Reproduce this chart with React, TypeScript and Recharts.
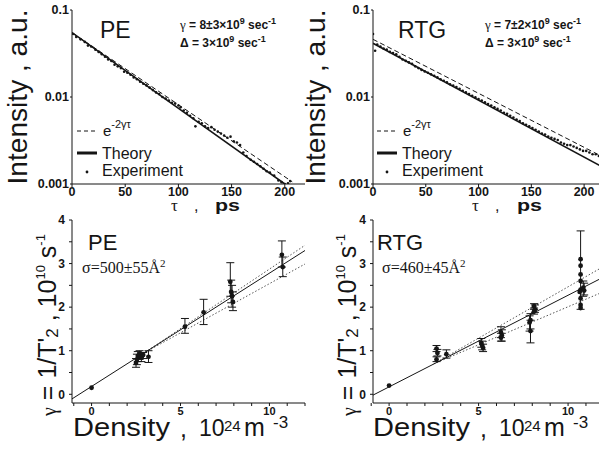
import React from 'react';
import { ComposedChart, XAxis, YAxis, Line, Scatter, ErrorBar, Customized } from 'recharts';

const INK = '#151515';
const SANS = '"Liberation Sans", Arial, Helvetica, sans-serif';
const SERIF = '"Liberation Serif", "Times New Roman", serif';

// ---------- Intensity decay: tau (ps) vs intensity (a.u.) ----------
const tauTicks = [0, 50, 100, 150, 200];
const intensityTicks = [0.001, 0.01, 0.1];

const peExperiment = [
  [1, 0.053], [4, 0.049], [8, 0.046], [12, 0.043], [15, 0.039], [18, 0.038], [22, 0.035],
  [25, 0.033], [28, 0.031], [31, 0.029], [34, 0.027], [37, 0.026], [40, 0.0235], [43, 0.0225],
  [46, 0.0215], [49, 0.0195], [52, 0.019], [55, 0.018], [58, 0.0168], [61, 0.016], [64, 0.015],
  [67, 0.0142], [70, 0.0136], [73, 0.0128], [76, 0.012], [79, 0.0113], [82, 0.0108], [85, 0.01],
  [88, 0.0096], [91, 0.0091], [94, 0.0086], [97, 0.0084], [100, 0.008], [102, 0.0076],
  [105, 0.007], [108, 0.0066], [111, 0.0061], [114, 0.0057], [116, 0.0046], [119, 0.0052],
  [122, 0.005], [125, 0.0046], [128, 0.0044], [131, 0.0045], [134, 0.0042], [137, 0.004],
  [140, 0.0038], [143, 0.0036], [146, 0.0034], [149, 0.0035], [152, 0.0031], [155, 0.003],
  [158, 0.0028], [161, 0.0023], [164, 0.0021], [168, 0.0019], [171, 0.0018], [174, 0.0017],
  [177, 0.0016], [180, 0.0015], [183, 0.0014], [186, 0.00135], [190, 0.00125], [194, 0.0011],
  [197, 0.00105], [200, 0.001], [203, 0.00102], [205, 0.00108],
];
const peTheory = [[0, 0.055], [200, 0.001]];
const peSingleExp = [[0, 0.055], [207, 0.00106]];

const rtgExperiment = [
  [0, 0.053], [2, 0.034], [4, 0.04], [7, 0.038], [10, 0.036], [13, 0.035], [16, 0.033],
  [19, 0.032], [22, 0.031], [25, 0.029], [28, 0.027], [31, 0.026], [34, 0.025], [37, 0.024],
  [40, 0.0225], [43, 0.0215], [46, 0.0205], [49, 0.0197], [52, 0.019], [55, 0.0182],
  [58, 0.0175], [61, 0.0168], [64, 0.016], [67, 0.0154], [70, 0.0148], [73, 0.014],
  [76, 0.0135], [79, 0.013], [82, 0.0124], [85, 0.0118], [88, 0.0113], [91, 0.0108],
  [94, 0.0103], [97, 0.0099], [100, 0.0095], [103, 0.0091], [106, 0.0087], [109, 0.0083],
  [112, 0.008], [115, 0.0076], [118, 0.0073], [121, 0.007], [124, 0.0066], [127, 0.0064],
  [130, 0.0061], [133, 0.0058], [136, 0.0055], [139, 0.0053], [142, 0.005], [145, 0.0048],
  [148, 0.0046], [151, 0.0044], [154, 0.0042], [157, 0.004], [160, 0.0038], [163, 0.0037],
  [166, 0.0035], [169, 0.0034], [172, 0.0033], [175, 0.0032], [178, 0.003], [181, 0.0029],
  [184, 0.0028], [187, 0.0028], [190, 0.0027], [193, 0.0026], [196, 0.0025], [199, 0.0024],
  [202, 0.0024], [205, 0.0023], [208, 0.0022], [211, 0.0022], [214, 0.0021],
];
const rtgTheory = [[0, 0.0414], [216, 0.0016]];
const rtgSingleExp = [[0, 0.046], [216, 0.0021]];

// ---------- Dephasing rate vs density ----------
const densityTicks = [-1, 0, 1, 2, 3, 4, 5, 6, 7, 8, 9, 10, 11, 12];
const rateTicks = [0, 0.5, 1, 1.5, 2, 2.5, 3, 3.5, 4];

// [density, rate, lower end of bar, upper end of bar]
const peRates = [
  [2.5, 0.72, 0.62, 0.82], [2.55, 0.8, 0.68, 0.92], [2.6, 0.88, 0.75, 0.98],
  [2.7, 0.92, 0.8, 1.0], [2.8, 0.85, 0.75, 0.95], [2.9, 0.9, 0.82, 0.96],
  [3.2, 0.86, 0.73, 1.0], [5.25, 1.55, 1.4, 1.74], [6.3, 1.88, 1.6, 2.18],
  [7.8, 2.58, 2.25, 3.02], [7.85, 2.35, 2.1, 2.62], [7.9, 2.25, 2.0, 2.5],
  [7.95, 2.12, 1.92, 2.35], [10.7, 3.2, 2.92, 3.52], [10.75, 2.92, 2.7, 3.15],
];
const peRatesPlain = [[0, 0.15]];
const peFit = [[-1.1, -0.106], [12, 3.3]];
const peFitUpper = [[3, 0.96], [12, 3.42]];
const peFitLower = [[3, 0.96], [12, 2.99]];

const rtgRates = [
  [2.65, 1.05, 0.98, 1.12], [2.7, 0.95, 0.88, 1.03], [2.65, 0.8, 0.75, 0.86],
  [3.2, 0.92, 0.83, 1.02], [5.15, 1.18, 1.08, 1.28], [5.2, 1.12, 1.02, 1.22],
  [5.25, 1.06, 0.98, 1.15], [6.25, 1.42, 1.3, 1.55], [6.3, 1.35, 1.22, 1.48],
  [6.25, 1.3, 1.22, 1.4], [7.9, 1.7, 1.5, 1.85], [7.85, 1.65, 1.45, 1.8],
  [7.9, 1.45, 1.18, 1.7], [8.1, 2.02, 1.95, 2.08], [8.15, 1.95, 1.88, 2.05],
  [8.1, 1.9, 1.84, 1.98], [10.7, 2.4, 1.95, 3.75], [10.85, 2.45, 2.25, 2.6],
  [10.9, 2.38, 2.28, 2.55],
];
const rtgRatesPlain = [
  [0, 0.2], [10.7, 3.1], [10.7, 2.95], [10.7, 2.75], [10.7, 2.6], [10.65, 2.35],
  [10.7, 2.2], [10.7, 2.05], [10.7, 1.98],
];
const rtgFit = [[-0.9, -0.019], [11.84, 2.66]];
const rtgFitUpper = [[2.5, 0.7], [11.84, 2.9]];
const rtgFitLower = [[2.5, 0.7], [11.84, 2.33]];

type Pt = { x: number; y: number; err?: [number, number] };
const pts = (a: number[][]): Pt[] => a.map(([x, y]) => ({ x, y }));
const barPts = (a: number[][]): Pt[] =>
  a.map(([x, y, lo, hi]) => ({ x, y, err: [y - lo, hi - y] as [number, number] }));

const tickFont = { fill: INK, fontSize: 12.5, fontWeight: 700, fontFamily: SANS };
const smallTickFont = { fill: INK, fontSize: 11, fontWeight: 700, fontFamily: SANS };
const axisStroke = { stroke: INK, strokeWidth: 1 };

const tinyDot = (p: any) => <circle cx={p.cx} cy={p.cy} r={1.3} fill={INK} />;
const bigDot = (p: any) => <circle cx={p.cx} cy={p.cy} r={2.4} fill={INK} />;

type DecayCfg = {
  left: number;
  width: number;
  right: number;
  xMax: number;
  axisW: number;
  experiment: number[][];
  theory: number[][];
  single: number[][];
  name: string;
  nameX: number;
  gamma: string;
  noteX: number;
  titleX: number;
  tauX: number;
  psX: number;
};

function DecayText({ c }: { c: DecayCfg }) {
  return (
    <g fill={INK} fontFamily={SANS}>
      <text
        transform={`translate(${c.titleX},97) rotate(-90)`}
        textAnchor="middle"
        fontSize={28}
        textLength={175}
        lengthAdjust="spacingAndGlyphs"
      >
        Intensity , a.u.
      </text>
      <text x={c.tauX} y={211} fontFamily={SERIF} fontSize={17}>τ</text>
      <text x={c.tauX + 23} y={211} fontSize={16}>,</text>
      <text
        x={c.psX}
        y={211}
        fontSize={17}
        fontWeight={700}
        textLength={25}
        lengthAdjust="spacingAndGlyphs"
      >
        ps
      </text>
      <text x={c.nameX} y={38} fontSize={23}>{c.name}</text>
      <text x={c.noteX} y={29} fontSize={12} fontWeight={700}>
        <tspan fontFamily={SERIF} fontSize={13} fontWeight={400}>γ</tspan>
        <tspan>{` = ${c.gamma}×10`}</tspan>
        <tspan fontSize={9} dy={-5}>9</tspan>
        <tspan dy={5}> sec</tspan>
        <tspan fontSize={9} dy={-5}>-1</tspan>
      </text>
      <text x={c.noteX} y={47} fontSize={12} fontWeight={700}>
        <tspan>Δ = 3×10</tspan>
        <tspan fontSize={9} dy={-5}>9</tspan>
        <tspan dy={5}> sec</tspan>
        <tspan fontSize={9} dy={-5}>-1</tspan>
      </text>
      <line x1={77} x2={97} y1={131} y2={131} stroke={INK} strokeWidth={1} strokeDasharray="4 3" />
      <text x={103} y={136} fontSize={15}>
        e<tspan fontSize={11} dy={-8}>-2γτ</tspan>
      </text>
      <line x1={77} x2={97} y1={153} y2={153} stroke={INK} strokeWidth={3} />
      <text x={102} y={159} fontSize={16}>Theory</text>
      <circle cx={87} cy={172} r={1.4} fill={INK} />
      <text x={102} y={176} fontSize={16}>Experiment</text>
    </g>
  );
}

function DecayPanel({ c }: { c: DecayCfg }) {
  return (
    <div style={{ position: 'absolute', left: c.left, top: 0 }}>
      <ComposedChart
        width={c.width}
        height={215}
        margin={{ top: 10, right: c.right, bottom: 0, left: 0 }}
      >
        <XAxis
          dataKey="x"
          type="number"
          domain={[0, c.xMax]}
          ticks={tauTicks}
          interval={0}
          allowDataOverflow
          height={31}
          tickSize={3}
          tickMargin={0}
          tick={tickFont}
          axisLine={axisStroke}
          tickLine={axisStroke}
        />
        <XAxis
          xAxisId="top"
          orientation="top"
          type="number"
          domain={[0, c.xMax]}
          height={0}
          tick={false}
          tickLine={false}
          axisLine={axisStroke}
        />
        <YAxis
          dataKey="y"
          type="number"
          scale="log"
          domain={[0.001, 0.1]}
          ticks={intensityTicks}
          interval={0}
          allowDataOverflow
          width={c.axisW}
          tickSize={2}
          tickMargin={1}
          tick={tickFont}
          tickFormatter={(v: number) => String(v)}
          axisLine={axisStroke}
          tickLine={axisStroke}
        />
        <YAxis
          yAxisId="right"
          orientation="right"
          type="number"
          domain={[0, 1]}
          width={0}
          tick={false}
          tickLine={false}
          axisLine={axisStroke}
        />
        <Line
          data={pts(c.single)}
          dataKey="y"
          stroke={INK}
          strokeWidth={1}
          strokeDasharray="5 3"
          dot={false}
          isAnimationActive={false}
        />
        <Line
          data={pts(c.theory)}
          dataKey="y"
          stroke={INK}
          strokeWidth={1.6}
          dot={false}
          isAnimationActive={false}
        />
        <Scatter data={pts(c.experiment)} dataKey="y" shape={tinyDot} isAnimationActive={false} />
        <Customized component={() => <DecayText c={c} />} />
      </ComposedChart>
    </div>
  );
}

type RateCfg = {
  left: number;
  width: number;
  right: number;
  xMin: number;
  xMax: number;
  axisW: number;
  rates: number[][];
  plain: number[][];
  fit: number[][];
  upper: number[][];
  lower: number[][];
  name: string;
  nameX: number;
  sigma: string;
  sigmaX: number;
};

function RateText({ c }: { c: RateCfg }) {
  return (
    <g fill={INK} fontFamily={SANS}>
      <text transform="translate(56,115) rotate(-90)" textAnchor="middle" fontSize={25}>
        <tspan fontFamily={SERIF} fontSize={20}>γ</tspan>
        <tspan> = 1/T'</tspan>
        <tspan fontSize={17} dy={2}>2</tspan>
        <tspan dy={-2}> , 10</tspan>
        <tspan fontSize={13} dy={-11}>10</tspan>
        <tspan dy={11}> s</tspan>
        <tspan fontSize={13} dy={-11}>-1</tspan>
      </text>
      <text x={73} y={226} fontSize={25} textLength={97} lengthAdjust="spacingAndGlyphs">
        Density
      </text>
      <text x={180} y={227} fontSize={25}>,</text>
      <text x={199} y={226} fontSize={23}>10</text>
      <text x={224} y={221} fontSize={15}>24</text>
      <text x={244} y={226} fontSize={25}>m</text>
      <text x={273} y={218} fontSize={17}>-3</text>
      <text x={c.nameX} y={40} fontSize={22}>{c.name}</text>
      <text x={c.sigmaX} y={63} fontFamily={SERIF} fontSize={16}>
        σ={c.sigma}Å<tspan fontSize={11} dy={-6}>2</tspan>
      </text>
    </g>
  );
}

function RatePanel({ c }: { c: RateCfg }) {
  return (
    <div style={{ position: 'absolute', left: c.left, top: 210 }}>
      <ComposedChart
        width={c.width}
        height={247}
        margin={{ top: 10, right: c.right, bottom: 0, left: 0 }}
      >
        <XAxis
          dataKey="x"
          type="number"
          domain={[c.xMin, c.xMax]}
          ticks={densityTicks}
          interval={0}
          allowDataOverflow
          height={54}
          tickSize={3}
          tickMargin={1}
          tick={smallTickFont}
          tickFormatter={(v: number) => (v % 5 === 0 ? String(v) : '')}
          axisLine={axisStroke}
          tickLine={axisStroke}
        />
        <XAxis
          xAxisId="top"
          orientation="top"
          type="number"
          domain={[c.xMin, c.xMax]}
          height={0}
          tick={false}
          tickLine={false}
          axisLine={axisStroke}
        />
        <YAxis
          dataKey="y"
          type="number"
          domain={[-0.2, 4]}
          ticks={rateTicks}
          interval={0}
          allowDataOverflow
          width={c.axisW}
          tickSize={3}
          tickMargin={4}
          tick={{ ...smallTickFont, fontSize: 12 }}
          tickFormatter={(v: number) => (Number.isInteger(v) ? String(v) : '')}
          axisLine={axisStroke}
          tickLine={axisStroke}
        />
        <YAxis
          yAxisId="right"
          orientation="right"
          type="number"
          domain={[0, 1]}
          width={0}
          tick={false}
          tickLine={false}
          axisLine={axisStroke}
        />
        <Line
          data={pts(c.upper)}
          dataKey="y"
          stroke="#555"
          strokeWidth={1}
          strokeDasharray="1.5 2"
          dot={false}
          isAnimationActive={false}
        />
        <Line
          data={pts(c.lower)}
          dataKey="y"
          stroke="#555"
          strokeWidth={1}
          strokeDasharray="1.5 2"
          dot={false}
          isAnimationActive={false}
        />
        <Line
          data={pts(c.fit)}
          dataKey="y"
          stroke={INK}
          strokeWidth={1}
          dot={false}
          isAnimationActive={false}
        />
        <Scatter data={barPts(c.rates)} dataKey="y" shape={bigDot} isAnimationActive={false}>
          <ErrorBar dataKey="err" direction="y" width={4} stroke={INK} strokeWidth={1} />
        </Scatter>
        <Scatter data={pts(c.plain)} dataKey="y" shape={bigDot} isAnimationActive={false} />
        <Customized component={() => <RateText c={c} />} />
      </ComposedChart>
    </div>
  );
}

const peDecay: DecayCfg = {
  left: 0, width: 310, right: 5, xMax: 219, axisW: 72,
  experiment: peExperiment, theory: peTheory, single: peSingleExp,
  name: 'PE', nameX: 100, gamma: '8±3', noteX: 180, titleX: 27, tauX: 171, psX: 215,
};
const rtgDecay: DecayCfg = {
  left: 300, width: 301, right: 0, xMax: 216, axisW: 73,
  experiment: rtgExperiment, theory: rtgTheory, single: rtgSingleExp,
  name: 'RTG', nameX: 98, gamma: '7±2', noteX: 185, titleX: 25, tauX: 172, psX: 217,
};
const peRate: RateCfg = {
  left: 0, width: 310, right: 5, xMin: -1.1, xMax: 12, axisW: 72,
  rates: peRates, plain: peRatesPlain, fit: peFit, upper: peFitUpper, lower: peFitLower,
  name: 'PE', nameX: 88, sigma: '500±55', sigmaX: 82,
};
const rtgRate: RateCfg = {
  left: 300, width: 301, right: 0, xMin: -0.9, xMax: 11.84, axisW: 73,
  rates: rtgRates, plain: rtgRatesPlain, fit: rtgFit, upper: rtgFitUpper, lower: rtgFitLower,
  name: 'RTG', nameX: 77, sigma: '460±45', sigmaX: 82,
};

export default function App() {
  return (
    <div
      style={{
        position: 'absolute',
        left: 0,
        top: 0,
        width: 599,
        height: 457,
        overflow: 'hidden',
        background: '#fff',
      }}
    >
      <DecayPanel c={peDecay} />
      <DecayPanel c={rtgDecay} />
      <RatePanel c={peRate} />
      <RatePanel c={rtgRate} />
    </div>
  );
}
